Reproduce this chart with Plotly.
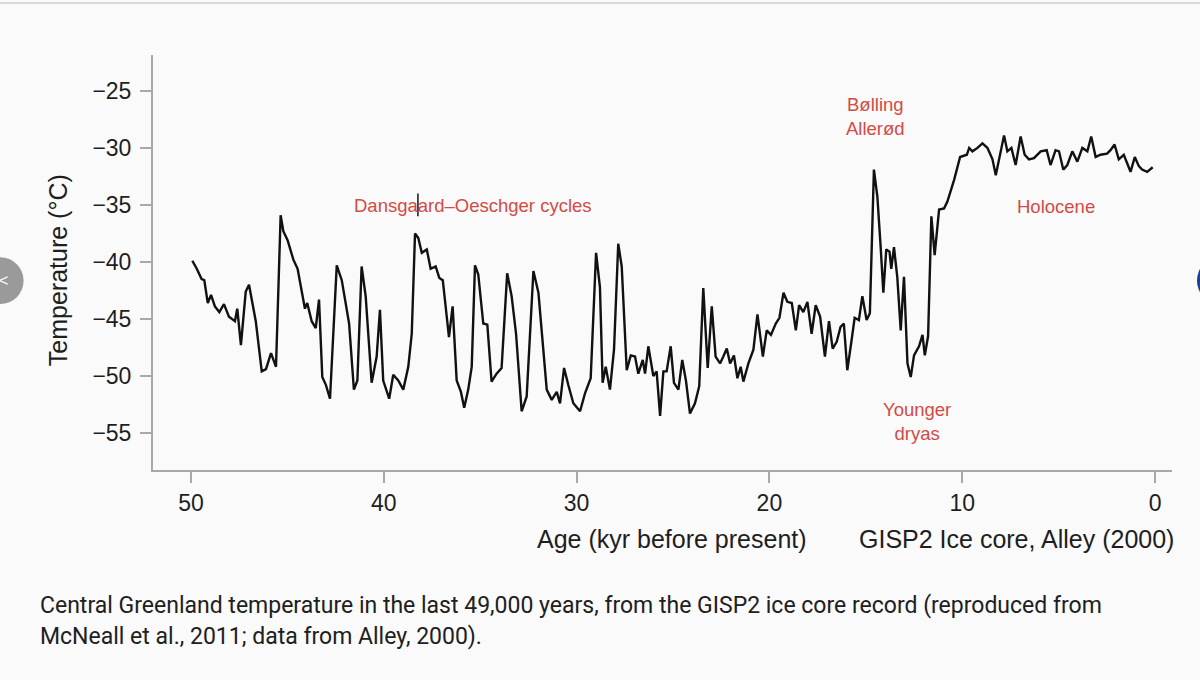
import plotly.graph_objects as go

# GISP2 temperature record (age in kyr BP, temperature in degC)
age = [49.93, 49.7, 49.45, 49.31, 49.13, 48.96, 48.76, 48.53, 48.29, 48.03,
       47.72, 47.6, 47.41, 47.16, 46.99, 46.85, 46.64, 46.33, 46.11, 45.85,
       45.59, 45.35, 45.21, 44.99, 44.69, 44.47, 44.09, 43.97, 43.74, 43.53,
       43.36, 43.19, 43.0, 42.79, 42.44, 42.18, 41.8, 41.55, 41.37, 41.15,
       40.94, 40.63, 40.37, 40.2, 40.03, 39.72, 39.51, 39.25, 38.99, 38.73,
       38.55, 38.38, 38.21, 38.03, 37.77, 37.57, 37.31, 37.12, 36.94, 36.62,
       36.43, 36.22, 36.0, 35.83, 35.62, 35.44, 35.27, 35.1, 34.84, 34.63,
       34.41, 34.15, 33.89, 33.6, 33.37, 33.14, 32.85, 32.59, 32.24, 31.98,
       31.55, 31.29, 31.03, 30.86, 30.65, 30.43, 30.17, 29.82, 29.56, 29.27,
       28.99, 28.79, 28.65, 28.49, 28.27, 28.06, 27.84, 27.66, 27.4, 27.19,
       26.97, 26.8, 26.57, 26.45, 26.28, 26.02, 25.85, 25.67, 25.5, 25.33,
       25.12, 24.95, 24.72, 24.52, 24.33, 24.12, 23.86, 23.64, 23.43, 23.2,
       22.99, 22.79, 22.56, 22.39, 22.21, 22.04, 21.84, 21.66, 21.49, 21.35,
       21.09, 20.83, 20.62, 20.34, 20.14, 19.92, 19.67, 19.48, 19.27, 19.07,
       18.84, 18.63, 18.46, 18.24, 18.03, 17.81, 17.6, 17.37, 17.12, 16.91,
       16.72, 16.51, 16.31, 16.14, 15.96, 15.75, 15.58, 15.36, 15.18, 14.96,
       14.79, 14.58, 14.4, 14.23, 14.09, 13.94, 13.77, 13.68, 13.54, 13.37,
       13.19, 13.02, 12.84, 12.67, 12.5, 12.24, 12.06, 11.94, 11.77, 11.6,
       11.43, 11.2, 10.94, 10.77, 10.42, 10.11, 9.76, 9.64, 9.47, 9.21,
       8.95, 8.69, 8.43, 8.26, 8.04, 7.83, 7.66, 7.45, 7.23, 6.97,
       6.76, 6.54, 6.28, 5.93, 5.62, 5.42, 5.16, 4.98, 4.76, 4.55,
       4.29, 4.03, 3.77, 3.51, 3.31, 3.08, 2.83, 2.49, 2.31, 2.1,
       1.88, 1.62, 1.41, 1.27, 1.05, 0.84, 0.67, 0.41, 0.12]
temp = [-39.9, -40.6, -41.5, -41.6, -43.6, -42.9, -43.9, -44.4, -43.7, -44.8,
        -45.2, -44.1, -47.3, -42.6, -42.0, -43.3, -45.2, -49.6, -49.4, -48.0,
        -49.2, -35.9, -37.3, -38.1, -39.8, -40.6, -44.1, -43.6, -45.2, -45.8,
        -43.3, -50.1, -50.8, -52.0, -40.3, -41.6, -45.4, -51.2, -50.4, -40.4,
        -43.0, -50.6, -48.3, -44.2, -50.4, -52.0, -49.9, -50.4, -51.2, -49.2,
        -46.3, -37.5, -37.9, -39.2, -38.9, -40.6, -40.4, -41.4, -41.6, -46.6,
        -43.9, -50.4, -51.4, -52.8, -51.2, -49.2, -40.3, -41.1, -45.4, -45.5,
        -50.5, -49.8, -49.3, -41.0, -43.0, -46.3, -53.1, -51.8, -40.8, -42.7,
        -51.2, -52.1, -51.4, -52.4, -49.3, -50.8, -52.4, -53.1, -51.5, -50.2,
        -39.2, -42.2, -50.6, -49.2, -51.2, -47.7, -38.4, -40.4, -49.5, -48.2,
        -48.3, -49.8, -48.6, -49.8, -47.4, -50.0, -49.6, -53.5, -49.6, -49.6,
        -47.4, -50.6, -51.2, -48.6, -50.4, -53.3, -52.4, -50.9, -42.3, -49.3,
        -43.9, -48.3, -48.9, -48.3, -47.6, -48.9, -48.2, -50.2, -49.2, -50.5,
        -48.9, -47.7, -44.6, -48.3, -46.0, -46.4, -45.4, -44.9, -42.7, -43.5,
        -43.6, -46.0, -43.8, -44.4, -43.5, -46.3, -43.8, -44.8, -48.3, -45.2,
        -47.6, -47.0, -45.7, -45.4, -49.5, -47.0, -44.9, -45.1, -43.0, -45.1,
        -44.5, -31.9, -34.3, -38.7, -42.7, -38.9, -39.1, -40.6, -38.7, -41.3,
        -46.0, -41.3, -48.9, -50.1, -48.2, -47.4, -46.4, -48.2, -46.5, -36.0,
        -39.4, -35.4, -35.3, -34.7, -32.8, -30.8, -30.6, -30.0, -30.3, -30.0,
        -29.6, -30.0, -31.0, -32.4, -30.5, -28.9, -30.3, -30.0, -31.5, -29.0,
        -30.6, -31.0, -30.9, -30.3, -30.2, -31.5, -30.2, -30.3, -31.9, -31.5,
        -30.3, -31.2, -30.0, -30.3, -29.0, -30.8, -30.6, -30.5, -30.2, -29.7,
        -31.0, -30.6, -31.5, -32.1, -30.8, -31.6, -31.9, -32.1, -31.7]

x_ticks = [50, 40, 30, 20, 10, 0]
y_ticks = [-25, -30, -35, -40, -45, -50, -55]

BG = "#fafafa"
RED = "#d24b45"
AX = "#a8a8a8"

fig = go.Figure()
fig.add_trace(go.Scatter(x=age, y=temp, mode="lines",
                         line=dict(color="#111111", width=2.4),
                         hoverinfo="skip", showlegend=False))

fig.update_layout(
    width=1200, height=680,
    margin=dict(l=153, r=28, t=55, b=210, autoexpand=False),
    paper_bgcolor=BG, plot_bgcolor=BG,
    font=dict(family="Liberation Sans, Arial, sans-serif", color="#1e1e1e"),
    showlegend=False,
)
fig.update_xaxes(range=[51.97, -0.88], tickvals=x_ticks, showgrid=False, zeroline=False,
                 showline=True, linecolor=AX, linewidth=2, ticks="outside",
                 ticklen=11, tickwidth=2, tickcolor=AX, tickfont=dict(size=23))
fig.update_yaxes(range=[-58.25, -21.85], tickvals=y_ticks, showgrid=False, zeroline=False,
                 showline=True, linecolor=AX, linewidth=2, ticks="outside",
                 ticklen=11, tickwidth=2, tickcolor=AX, tickfont=dict(size=23),
                 ticklabelstandoff=4)

# period labels
labels = [
    (35.37, -35.09, "Dansgaard–Oeschger cycles"),
    (14.52, -27.2, "Bølling<br>Allerød"),
    (5.13, -35.1, "Holocene"),
    (12.34, -54.0, "Younger<br>dryas"),
]
for lx, ly, txt in labels:
    fig.add_annotation(x=lx, y=ly, xref="x", yref="y", text=txt, showarrow=False,
                       font=dict(size=18.5, color=RED))
# small black mark through the D-O label
fig.add_shape(type="line", xref="x", yref="y", x0=38.23, x1=38.23, y0=-34.0, y1=-36.0,
              line=dict(color="#151515", width=1.5))

# axis titles
title_font = dict(size=25)
fig.add_annotation(x=-0.093, y=0.482, xref="paper", yref="paper", text="Temperature (°C)",
                   textangle=-90, showarrow=False, xanchor="center", yanchor="middle",
                   font=title_font)
fig.add_annotation(x=0.5095, y=-0.166, xref="paper", yref="paper",
                   text="Age (kyr before present)", showarrow=False,
                   xanchor="center", yanchor="middle", font=title_font)
fig.add_annotation(x=0.847, y=-0.166, xref="paper", yref="paper",
                   text="GISP2 Ice core, Alley (2000)", showarrow=False,
                   xanchor="center", yanchor="middle", font=title_font)

# caption below the figure
cap_font = dict(family="Roboto, sans-serif", size=23, color="#202020")
fig.add_annotation(x=-0.1125, y=-0.3265, xref="paper", yref="paper",
                   xanchor="left", yanchor="middle",
                   text="Central Greenland temperature in the last 49,000 years, from the GISP2 ice core record (reproduced from",
                   showarrow=False, font=cap_font)
fig.add_annotation(x=-0.1125, y=-0.4012, xref="paper", yref="paper",
                   xanchor="left", yanchor="middle",
                   text="McNeall et al., 2011; data from Alley, 2000).",
                   showarrow=False, font=cap_font)

# page chrome: top rule, carousel buttons
fig.add_shape(type="line", xref="paper", yref="paper", x0=-0.16, x1=1.04, y0=1.1255, y1=1.1255,
              line=dict(color="#d0d0d0", width=1.5))
fig.add_shape(type="circle", xref="paper", yref="paper", x0=-0.1725, x1=-0.127,
              y0=0.4, y1=0.5125, fillcolor="#9a9a9a", line=dict(width=0))
fig.add_annotation(x=-0.1472, y=0.4555, xref="paper", yref="paper", text="&lt;",
                   showarrow=False, xanchor="center", yanchor="middle",
                   font=dict(size=16, color="#ffffff"))
fig.add_shape(type="circle", xref="paper", yref="paper", x0=1.0245, x1=1.07,
              y0=0.4, y1=0.5125, fillcolor="#1b3f94", line=dict(width=0))

fig.write_html("out.html", config={"displayModeBar": False},
               post_script="document.body.style.margin='0';"
                           "document.body.style.background='#fafafa';")
